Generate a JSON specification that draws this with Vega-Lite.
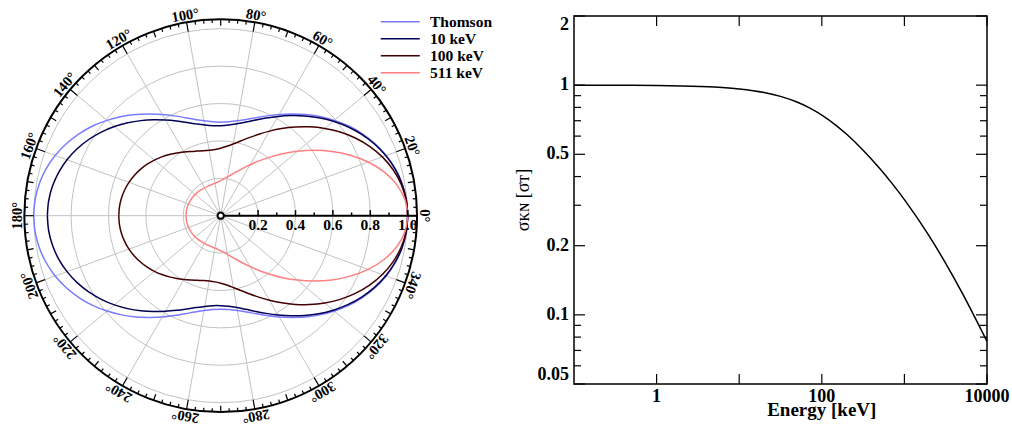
{
  "$schema": "https://vega.github.io/schema/vega-lite/v6.json",
  "padding": 0,
  "background": "white",
  "config": {
    "view": {"stroke": null},
    "font": "Liberation Serif"
  },
  "datasets": {
    "kn": [
      {"s": "Thomson", "a": 0, "r": 1}, {"s": "Thomson", "a": 5, "r": 0.996}, {"s": "Thomson", "a": 10, "r": 0.985}, {"s": "Thomson", "a": 15, "r": 0.967},
      {"s": "Thomson", "a": 20, "r": 0.942}, {"s": "Thomson", "a": 25, "r": 0.911}, {"s": "Thomson", "a": 30, "r": 0.875}, {"s": "Thomson", "a": 35, "r": 0.836},
      {"s": "Thomson", "a": 40, "r": 0.793}, {"s": "Thomson", "a": 45, "r": 0.75}, {"s": "Thomson", "a": 50, "r": 0.707}, {"s": "Thomson", "a": 55, "r": 0.664},
      {"s": "Thomson", "a": 60, "r": 0.625}, {"s": "Thomson", "a": 65, "r": 0.589}, {"s": "Thomson", "a": 70, "r": 0.558}, {"s": "Thomson", "a": 75, "r": 0.533},
      {"s": "Thomson", "a": 80, "r": 0.515}, {"s": "Thomson", "a": 85, "r": 0.504}, {"s": "Thomson", "a": 90, "r": 0.5}, {"s": "Thomson", "a": 95, "r": 0.504},
      {"s": "Thomson", "a": 100, "r": 0.515}, {"s": "Thomson", "a": 105, "r": 0.533}, {"s": "Thomson", "a": 110, "r": 0.558}, {"s": "Thomson", "a": 115, "r": 0.589},
      {"s": "Thomson", "a": 120, "r": 0.625}, {"s": "Thomson", "a": 125, "r": 0.664}, {"s": "Thomson", "a": 130, "r": 0.707}, {"s": "Thomson", "a": 135, "r": 0.75},
      {"s": "Thomson", "a": 140, "r": 0.793}, {"s": "Thomson", "a": 145, "r": 0.836}, {"s": "Thomson", "a": 150, "r": 0.875}, {"s": "Thomson", "a": 155, "r": 0.911},
      {"s": "Thomson", "a": 160, "r": 0.942}, {"s": "Thomson", "a": 165, "r": 0.967}, {"s": "Thomson", "a": 170, "r": 0.985}, {"s": "Thomson", "a": 175, "r": 0.996},
      {"s": "Thomson", "a": 180, "r": 1},
      {"s": "10 keV", "a": 0, "r": 1}, {"s": "10 keV", "a": 5, "r": 0.9961}, {"s": "10 keV", "a": 10, "r": 0.9843}, {"s": "10 keV", "a": 15, "r": 0.9652},
      {"s": "10 keV", "a": 20, "r": 0.9393}, {"s": "10 keV", "a": 25, "r": 0.9074}, {"s": "10 keV", "a": 30, "r": 0.8704}, {"s": "10 keV", "a": 35, "r": 0.8296},
      {"s": "10 keV", "a": 40, "r": 0.7862}, {"s": "10 keV", "a": 45, "r": 0.7415}, {"s": "10 keV", "a": 50, "r": 0.6968}, {"s": "10 keV", "a": 55, "r": 0.6536},
      {"s": "10 keV", "a": 60, "r": 0.613}, {"s": "10 keV", "a": 65, "r": 0.5763}, {"s": "10 keV", "a": 70, "r": 0.5445}, {"s": "10 keV", "a": 75, "r": 0.5184},
      {"s": "10 keV", "a": 80, "r": 0.4989}, {"s": "10 keV", "a": 85, "r": 0.4864}, {"s": "10 keV", "a": 90, "r": 0.4812}, {"s": "10 keV", "a": 95, "r": 0.4832},
      {"s": "10 keV", "a": 100, "r": 0.4925}, {"s": "10 keV", "a": 105, "r": 0.5084}, {"s": "10 keV", "a": 110, "r": 0.5306}, {"s": "10 keV", "a": 115, "r": 0.5582},
      {"s": "10 keV", "a": 120, "r": 0.5903}, {"s": "10 keV", "a": 125, "r": 0.6258}, {"s": "10 keV", "a": 130, "r": 0.6637}, {"s": "10 keV", "a": 135, "r": 0.7028},
      {"s": "10 keV", "a": 140, "r": 0.7418}, {"s": "10 keV", "a": 145, "r": 0.7796}, {"s": "10 keV", "a": 150, "r": 0.815}, {"s": "10 keV", "a": 155, "r": 0.847},
      {"s": "10 keV", "a": 160, "r": 0.8746}, {"s": "10 keV", "a": 165, "r": 0.8969}, {"s": "10 keV", "a": 170, "r": 0.9133}, {"s": "10 keV", "a": 175, "r": 0.9234},
      {"s": "10 keV", "a": 180, "r": 0.9268},
      {"s": "100 keV", "a": 0, "r": 1}, {"s": "100 keV", "a": 5, "r": 0.9947}, {"s": "100 keV", "a": 10, "r": 0.9791}, {"s": "100 keV", "a": 15, "r": 0.9538},
      {"s": "100 keV", "a": 20, "r": 0.9197}, {"s": "100 keV", "a": 25, "r": 0.8784}, {"s": "100 keV", "a": 30, "r": 0.8312}, {"s": "100 keV", "a": 35, "r": 0.7799},
      {"s": "100 keV", "a": 40, "r": 0.7264}, {"s": "100 keV", "a": 45, "r": 0.6723}, {"s": "100 keV", "a": 50, "r": 0.6193}, {"s": "100 keV", "a": 55, "r": 0.5688},
      {"s": "100 keV", "a": 60, "r": 0.5222}, {"s": "100 keV", "a": 65, "r": 0.4804}, {"s": "100 keV", "a": 70, "r": 0.4441}, {"s": "100 keV", "a": 75, "r": 0.4139},
      {"s": "100 keV", "a": 80, "r": 0.39}, {"s": "100 keV", "a": 85, "r": 0.3724}, {"s": "100 keV", "a": 90, "r": 0.3609}, {"s": "100 keV", "a": 95, "r": 0.3552},
      {"s": "100 keV", "a": 100, "r": 0.3548}, {"s": "100 keV", "a": 105, "r": 0.3591}, {"s": "100 keV", "a": 110, "r": 0.3675}, {"s": "100 keV", "a": 115, "r": 0.3791},
      {"s": "100 keV", "a": 120, "r": 0.3934}, {"s": "100 keV", "a": 125, "r": 0.4096}, {"s": "100 keV", "a": 130, "r": 0.427}, {"s": "100 keV", "a": 135, "r": 0.4449},
      {"s": "100 keV", "a": 140, "r": 0.4627}, {"s": "100 keV", "a": 145, "r": 0.4798}, {"s": "100 keV", "a": 150, "r": 0.4957}, {"s": "100 keV", "a": 155, "r": 0.5099},
      {"s": "100 keV", "a": 160, "r": 0.5221}, {"s": "100 keV", "a": 165, "r": 0.5319}, {"s": "100 keV", "a": 170, "r": 0.5391}, {"s": "100 keV", "a": 175, "r": 0.5435},
      {"s": "100 keV", "a": 180, "r": 0.5449},
      {"s": "511 keV", "a": 0, "r": 1}, {"s": "511 keV", "a": 5, "r": 0.9887}, {"s": "511 keV", "a": 10, "r": 0.9558}, {"s": "511 keV", "a": 15, "r": 0.9044},
      {"s": "511 keV", "a": 20, "r": 0.839}, {"s": "511 keV", "a": 25, "r": 0.7647}, {"s": "511 keV", "a": 30, "r": 0.6866}, {"s": "511 keV", "a": 35, "r": 0.6091},
      {"s": "511 keV", "a": 40, "r": 0.5356}, {"s": "511 keV", "a": 45, "r": 0.4685}, {"s": "511 keV", "a": 50, "r": 0.4091}, {"s": "511 keV", "a": 55, "r": 0.3579},
      {"s": "511 keV", "a": 60, "r": 0.3148}, {"s": "511 keV", "a": 65, "r": 0.2793}, {"s": "511 keV", "a": 70, "r": 0.2507}, {"s": "511 keV", "a": 75, "r": 0.228},
      {"s": "511 keV", "a": 80, "r": 0.2105}, {"s": "511 keV", "a": 85, "r": 0.1972}, {"s": "511 keV", "a": 90, "r": 0.1875}, {"s": "511 keV", "a": 95, "r": 0.1806},
      {"s": "511 keV", "a": 100, "r": 0.1761}, {"s": "511 keV", "a": 105, "r": 0.1733}, {"s": "511 keV", "a": 110, "r": 0.1719}, {"s": "511 keV", "a": 115, "r": 0.1716},
      {"s": "511 keV", "a": 120, "r": 0.172}, {"s": "511 keV", "a": 125, "r": 0.173}, {"s": "511 keV", "a": 130, "r": 0.1743}, {"s": "511 keV", "a": 135, "r": 0.1758},
      {"s": "511 keV", "a": 140, "r": 0.1774}, {"s": "511 keV", "a": 145, "r": 0.179}, {"s": "511 keV", "a": 150, "r": 0.1805}, {"s": "511 keV", "a": 155, "r": 0.1818},
      {"s": "511 keV", "a": 160, "r": 0.183}, {"s": "511 keV", "a": 165, "r": 0.1839}, {"s": "511 keV", "a": 170, "r": 0.1846}, {"s": "511 keV", "a": 175, "r": 0.185},
      {"s": "511 keV", "a": 180, "r": 0.1852}
    ],
    "total": [
      {"E": 0.1, "s": 0.9996}, {"E": 0.3162, "s": 0.9988}, {"E": 1, "s": 0.9961}, {"E": 2, "s": 0.9923},
      {"E": 5, "s": 0.9809}, {"E": 10, "s": 0.9628}, {"E": 20, "s": 0.929}, {"E": 31.62, "s": 0.8934},
      {"E": 50, "s": 0.8441}, {"E": 70, "s": 0.7981}, {"E": 100, "s": 0.7407}, {"E": 150, "s": 0.6668},
      {"E": 200, "s": 0.611}, {"E": 316.2, "s": 0.5211}, {"E": 500, "s": 0.4347}, {"E": 700, "s": 0.3755},
      {"E": 1000, "s": 0.3175}, {"E": 2000, "s": 0.22}, {"E": 3162, "s": 0.1675}, {"E": 5000, "s": 0.1246},
      {"E": 10000, "s": 0.0766}
    ],
    "yticks": [
      {"v": 0.05, "c": "major"}, {"v": 0.06, "c": "minor"}, {"v": 0.07, "c": "minor"}, {"v": 0.08, "c": "minor"},
      {"v": 0.09, "c": "minor"}, {"v": 0.1, "c": "major"}, {"v": 0.2, "c": "major"}, {"v": 0.3, "c": "minor"},
      {"v": 0.4, "c": "minor"}, {"v": 0.5, "c": "major"}, {"v": 0.6, "c": "minor"}, {"v": 0.7, "c": "minor"},
      {"v": 0.8, "c": "minor"}, {"v": 0.9, "c": "minor"}, {"v": 1, "c": "major"}, {"v": 2, "c": "major"}
    ],
    "xticks": [{"v": 1}, {"v": 10}, {"v": 100}, {"v": 1000}, {"v": 10000}]
  },
  "hconcat": [
    {
      "width": 574,
      "height": 432,
      "layer": [
        {
          "data": {"values": [{"r": 0.2}, {"r": 0.4}, {"r": 0.6}, {"r": 0.8}, {"r": 1.0}]},
          "transform": [{"calculate": "0", "as": "o"}],
          "mark": {"type": "point", "shape": "circle", "filled": false, "stroke": "#c2c2c2", "strokeWidth": 1, "opacity": 1},
          "encoding": {
            "x": {"field": "o", "type": "quantitative", "scale": {"domain": [-1.1802, 1.8893], "nice": false, "zero": false}, "axis": null},
            "y": {"field": "o", "type": "quantitative", "scale": {"domain": [-1.1567, 1.1535], "nice": false, "zero": false}, "axis": null},
            "size": {"field": "r", "type": "quantitative", "scale": {"type": "pow", "exponent": 2, "domain": [0, 1], "range": [0, 139876]}, "legend": null}
          }
        },
        {
          "data": {"values": [{"a": 0}, {"a": 20}, {"a": 40}, {"a": 60}, {"a": 80}, {"a": 100}, {"a": 120}, {"a": 140}, {"a": 160}, {"a": 180}, {"a": 200}, {"a": 220}, {"a": 240}, {"a": 260}, {"a": 280}, {"a": 300}, {"a": 320}, {"a": 340}]},
          "transform": [
            {"calculate": "0", "as": "o"},
            {"calculate": "cos(datum.a * PI / 180)", "as": "cx"},
            {"calculate": "sin(datum.a * PI / 180)", "as": "cy"}
          ],
          "mark": {"type": "rule", "stroke": "#c2c2c2", "strokeWidth": 1},
          "encoding": {
            "x": {"field": "o", "type": "quantitative"},
            "y": {"field": "o", "type": "quantitative"},
            "x2": {"field": "cx"},
            "y2": {"field": "cy"}
          }
        },
        {
          "data": {"name": "kn"},
          "transform": [
            {"calculate": "datum.r * cos(datum.a * PI / 180)", "as": "px"},
            {"calculate": "datum.r * sin(datum.a * PI / 180)", "as": "py"}
          ],
          "mark": {"type": "line", "strokeWidth": 1.5, "interpolate": "catmull-rom"},
          "encoding": {
            "x": {"field": "px", "type": "quantitative"},
            "y": {"field": "py", "type": "quantitative"},
            "order": {"field": "a", "type": "quantitative"},
            "color": {
              "field": "s", "type": "nominal",
              "scale": {"domain": ["Thomson", "10 keV", "100 keV", "511 keV"], "range": ["#7b7bff", "#000055", "#440000", "#ff8080"]},
              "legend": {
                "orient": "none", "legendX": 392.5, "legendY": 14, "title": null, "padding": 0,
                "symbolType": "M-4.875,0H4.875", "symbolSize": 64, "symbolStrokeWidth": 1.5,
                "labelFont": "Liberation Serif", "labelFontWeight": "bold", "labelFontSize": 15.5,
                "labelColor": "black", "labelOffset": 22, "rowPadding": 0
              }
            }
          }
        },
        {
          "data": {"name": "kn"},
          "transform": [
            {"calculate": "datum.r * cos(datum.a * PI / 180)", "as": "px"},
            {"calculate": "-datum.r * sin(datum.a * PI / 180)", "as": "py"}
          ],
          "mark": {"type": "line", "strokeWidth": 1.5, "interpolate": "catmull-rom"},
          "encoding": {
            "x": {"field": "px", "type": "quantitative"},
            "y": {"field": "py", "type": "quantitative"},
            "order": {"field": "a", "type": "quantitative"},
            "color": {"field": "s", "type": "nominal"}
          }
        },
        {
          "data": {"values": [{"r": 1.05}]},
          "transform": [{"calculate": "0", "as": "o"}],
          "mark": {"type": "point", "shape": "circle", "filled": false, "stroke": "black", "strokeWidth": 2, "opacity": 1},
          "encoding": {
            "x": {"field": "o", "type": "quantitative"},
            "y": {"field": "o", "type": "quantitative"},
            "size": {"field": "r", "type": "quantitative"}
          }
        },
        {
          "data": {"values": [{"a": [0,2.5,5,7.5,10,12.5,15,17.5,20,22.5,25,27.5,30,32.5,35,37.5,40,42.5,45,47.5,50,52.5,55,57.5,60,62.5,65,67.5,70,72.5,75,77.5,80,82.5,85,87.5,90,92.5,95,97.5,100,102.5,105,107.5,110,112.5,115,117.5,120,122.5,125,127.5,130,132.5,135,137.5,140,142.5,145,147.5,150,152.5,155,157.5,160,162.5,165,167.5,170,172.5,175,177.5,180,182.5,185,187.5,190,192.5,195,197.5,200,202.5,205,207.5,210,212.5,215,217.5,220,222.5,225,227.5,230,232.5,235,237.5,240,242.5,245,247.5,250,252.5,255,257.5,260,262.5,265,267.5,270,272.5,275,277.5,280,282.5,285,287.5,290,292.5,295,297.5,300,302.5,305,307.5,310,312.5,315,317.5,320,322.5,325,327.5,330,332.5,335,337.5,340,342.5,345,347.5,350,352.5,355,357.5]}]},
          "transform": [
            {"flatten": ["a"]},
            {"calculate": "datum.a % 20 == 0 ? 0.05 : (datum.a % 10 == 0 ? 0.034 : 0.019)", "as": "len"},
            {"calculate": "1.05 * cos(datum.a * PI / 180)", "as": "ox"},
            {"calculate": "1.05 * sin(datum.a * PI / 180)", "as": "oy"},
            {"calculate": "(1.05 - datum.len) * cos(datum.a * PI / 180)", "as": "ix"},
            {"calculate": "(1.05 - datum.len) * sin(datum.a * PI / 180)", "as": "iy"}
          ],
          "mark": {"type": "rule", "stroke": "black", "strokeWidth": 1.2},
          "encoding": {
            "x": {"field": "ox", "type": "quantitative"},
            "y": {"field": "oy", "type": "quantitative"},
            "x2": {"field": "ix"},
            "y2": {"field": "iy"}
          }
        },
        {
          "data": {"values": [{"a": 0}, {"a": 20}, {"a": 40}, {"a": 60}, {"a": 80}, {"a": 100}, {"a": 120}, {"a": 140}, {"a": 160}, {"a": 180}, {"a": 200}, {"a": 220}, {"a": 240}, {"a": 260}, {"a": 280}, {"a": 300}, {"a": 320}, {"a": 340}]},
          "transform": [
            {"calculate": "1.064 * cos(datum.a * PI / 180)", "as": "lx"},
            {"calculate": "1.064 * sin(datum.a * PI / 180)", "as": "ly"},
            {"calculate": "90 - datum.a", "as": "rot"},
            {"calculate": "datum.a + '°'", "as": "lab"}
          ],
          "mark": {"type": "text", "font": "Liberation Serif", "fontWeight": "bold", "fontSize": 14.5, "align": "center", "baseline": "alphabetic", "color": "black"},
          "encoding": {
            "x": {"field": "lx", "type": "quantitative"},
            "y": {"field": "ly", "type": "quantitative"},
            "text": {"field": "lab", "type": "nominal"},
            "angle": {"field": "rot", "type": "quantitative", "scale": null}
          }
        },
        {
          "data": {"values": [{"r0": 0, "r1": 1.05}]},
          "mark": {"type": "rule", "stroke": "black", "strokeWidth": 2},
          "encoding": {
            "x": {"field": "r0", "type": "quantitative"},
            "x2": {"field": "r1"},
            "y": {"field": "r0", "type": "quantitative"}
          }
        },
        {
          "data": {"values": [{"r": 0.1}, {"r": 0.2}, {"r": 0.3}, {"r": 0.4}, {"r": 0.5}, {"r": 0.6}, {"r": 0.7}, {"r": 0.8}, {"r": 0.9}, {"r": 1.0}]},
          "transform": [
            {"calculate": "0", "as": "o"},
            {"calculate": "round(datum.r * 10) % 2 == 0 ? 0.03 : 0.017", "as": "h"}
          ],
          "mark": {"type": "rule", "stroke": "black", "strokeWidth": 1.5},
          "encoding": {
            "x": {"field": "r", "type": "quantitative"},
            "y": {"field": "o", "type": "quantitative"},
            "y2": {"field": "h"}
          }
        },
        {
          "data": {"values": [{"r": 0.2}, {"r": 0.4}, {"r": 0.6}, {"r": 0.8}, {"r": 1.0}]},
          "transform": [{"calculate": "0", "as": "o"}],
          "mark": {"type": "text", "font": "Liberation Serif", "fontWeight": "bold", "fontSize": 15.5, "align": "center", "baseline": "alphabetic", "dy": 14.5, "color": "black"},
          "encoding": {
            "x": {"field": "r", "type": "quantitative"},
            "y": {"field": "o", "type": "quantitative"},
            "text": {"field": "r", "type": "quantitative", "format": ".1f"}
          }
        },
        {
          "data": {"values": [{"o": 0}]},
          "mark": {"type": "point", "shape": "circle", "filled": true, "fill": "white", "stroke": "black", "strokeWidth": 2, "size": 40, "opacity": 1},
          "encoding": {
            "x": {"field": "o", "type": "quantitative"},
            "y": {"field": "o", "type": "quantitative"}
          }
        }
      ]
    },
    {
      "spacing": 10,
      "bounds": "flush",
      "vconcat": [
        {
          "width": 10, "height": 6,
          "data": {"values": [{"o": 0}]},
          "mark": {"type": "point", "opacity": 0},
          "encoding": {
            "x": {"field": "o", "type": "quantitative", "axis": null},
            "y": {"field": "o", "type": "quantitative", "axis": null}
          }
        },
        {
          "width": 413,
          "height": 368,
          "view": {"stroke": "black", "strokeWidth": 1.5},
          "layer": [
            {
              "data": {"name": "total"},
              "mark": {"type": "line", "color": "black", "strokeWidth": 1.5, "interpolate": "monotone"},
              "encoding": {
                "x": {"field": "E", "type": "quantitative", "scale": {"type": "log", "domain": [0.1, 10000], "nice": false}, "axis": null},
                "y": {"field": "s", "type": "quantitative", "scale": {"type": "log", "domain": [0.05, 2], "nice": false}, "axis": null}
              }
            },
            {
              "data": {"name": "yticks"},
              "transform": [
                {"calculate": "0.1", "as": "x0"},
                {"calculate": "datum.c == 'major' ? 0.13592 : 0.12154", "as": "x1"}
              ],
              "mark": {"type": "rule", "color": "black", "strokeWidth": 1.2},
              "encoding": {
                "x": {"field": "x0", "type": "quantitative", "axis": null},
                "x2": {"field": "x1"},
                "y": {"field": "v", "type": "quantitative", "axis": null}
              }
            },
            {
              "data": {"name": "yticks"},
              "transform": [
                {"calculate": "10000", "as": "x0"},
                {"calculate": "datum.c == 'major' ? 7357 : 8228", "as": "x1"}
              ],
              "mark": {"type": "rule", "color": "black", "strokeWidth": 1.2},
              "encoding": {
                "x": {"field": "x0", "type": "quantitative", "axis": null},
                "x2": {"field": "x1"},
                "y": {"field": "v", "type": "quantitative", "axis": null}
              }
            },
            {
              "data": {"name": "xticks"},
              "transform": [
                {"calculate": "0.05", "as": "y0"},
                {"calculate": "0.055273", "as": "y1"}
              ],
              "mark": {"type": "rule", "color": "black", "strokeWidth": 1.2},
              "encoding": {
                "x": {"field": "v", "type": "quantitative", "axis": null},
                "y": {"field": "y0", "type": "quantitative", "axis": null},
                "y2": {"field": "y1"}
              }
            },
            {
              "data": {"name": "xticks"},
              "transform": [
                {"calculate": "2", "as": "y0"},
                {"calculate": "1.8092", "as": "y1"}
              ],
              "mark": {"type": "rule", "color": "black", "strokeWidth": 1.2},
              "encoding": {
                "x": {"field": "v", "type": "quantitative", "axis": null},
                "y": {"field": "y0", "type": "quantitative", "axis": null},
                "y2": {"field": "y1"}
              }
            },
            {
              "data": {"name": "xticks"},
              "transform": [
                {"filter": "datum.v == 1 || datum.v == 100 || datum.v == 10000"},
                {"calculate": "0.05", "as": "y0"}
              ],
              "mark": {"type": "text", "font": "Liberation Serif", "fontWeight": "bold", "fontSize": 18, "align": "center", "baseline": "top", "dy": 4, "color": "black"},
              "encoding": {
                "x": {"field": "v", "type": "quantitative", "axis": null},
                "y": {"field": "y0", "type": "quantitative", "axis": null},
                "text": {"field": "v", "type": "quantitative", "format": "d"}
              }
            },
            {
              "data": {"name": "yticks"},
              "transform": [
                {"filter": "datum.c == 'major' && datum.v > 0.06 && datum.v < 1.5"},
                {"calculate": "0.1", "as": "x0"}
              ],
              "mark": {"type": "text", "font": "Liberation Serif", "fontWeight": "bold", "fontSize": 18, "align": "right", "baseline": "middle", "dx": -5, "color": "black"},
              "encoding": {
                "x": {"field": "x0", "type": "quantitative", "axis": null},
                "y": {"field": "v", "type": "quantitative", "axis": null},
                "text": {"field": "v", "type": "quantitative", "format": "~g"}
              }
            },
            {
              "data": {"name": "yticks"},
              "transform": [
                {"filter": "datum.v == 2"},
                {"calculate": "0.1", "as": "x0"}
              ],
              "mark": {"type": "text", "font": "Liberation Serif", "fontWeight": "bold", "fontSize": 18, "align": "right", "baseline": "top", "dx": -5, "color": "black"},
              "encoding": {
                "x": {"field": "x0", "type": "quantitative", "axis": null},
                "y": {"field": "v", "type": "quantitative", "axis": null},
                "text": {"field": "v", "type": "quantitative", "format": "~g"}
              }
            },
            {
              "data": {"name": "yticks"},
              "transform": [
                {"filter": "datum.v == 0.05"},
                {"calculate": "0.1", "as": "x0"}
              ],
              "mark": {"type": "text", "font": "Liberation Serif", "fontWeight": "bold", "fontSize": 18, "align": "right", "baseline": "bottom", "dx": -5, "color": "black"},
              "encoding": {
                "x": {"field": "x0", "type": "quantitative", "axis": null},
                "y": {"field": "v", "type": "quantitative", "axis": null},
                "text": {"field": "v", "type": "quantitative", "format": "~g"}
              }
            },
            {
              "data": {"values": [{"E": 100, "s": 0.05, "t": "Energy [keV]"}]},
              "mark": {"type": "text", "font": "Liberation Serif", "fontWeight": "bold", "fontSize": 19, "align": "center", "baseline": "top", "dy": 17, "color": "black"},
              "encoding": {
                "x": {"field": "E", "type": "quantitative", "axis": null},
                "y": {"field": "s", "type": "quantitative", "axis": null},
                "text": {"field": "t", "type": "nominal"}
              }
            },
            {
              "data": {"values": [{"E": 0.1, "s": 0.3162, "t": "σᴋɴ [σᴛ]"}]},
              "mark": {"type": "text", "font": "Liberation Serif", "fontSize": 18, "align": "center", "baseline": "middle", "angle": 270, "dy": -50, "color": "black"},
              "encoding": {
                "x": {"field": "E", "type": "quantitative", "axis": null},
                "y": {"field": "s", "type": "quantitative", "axis": null},
                "text": {"field": "t", "type": "nominal"}
              }
            }
          ]
        }
      ]
    }
  ],
  "spacing": 0,
  "bounds": "flush"
}
